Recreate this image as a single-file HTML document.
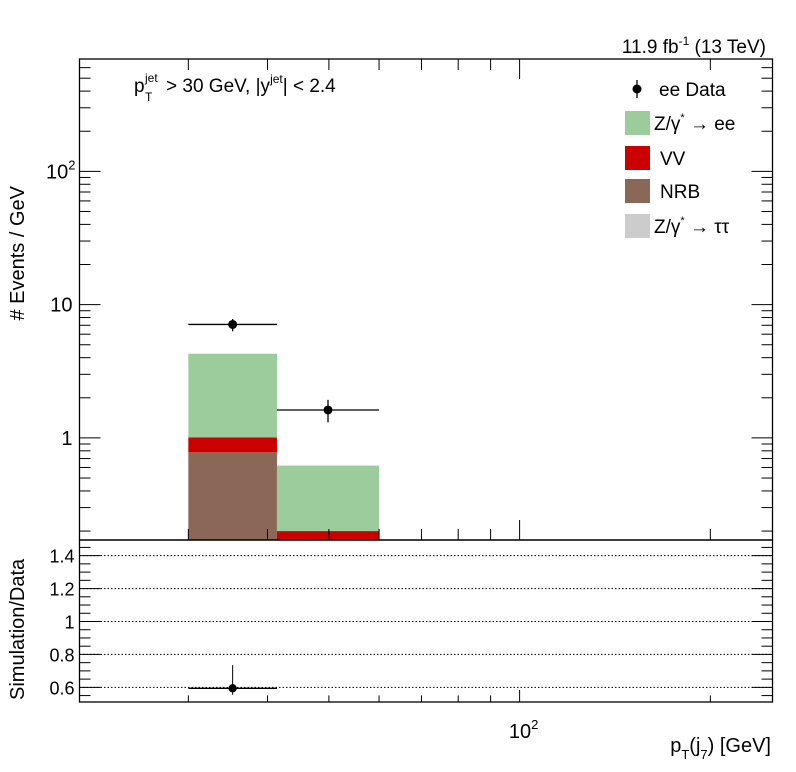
<!DOCTYPE html>
<html><head><meta charset="utf-8"><style>
body{margin:0;background:#fff}
svg{display:block;font-family:"Liberation Sans",sans-serif}
</style></head><body>
<svg id="c" width="796" height="772" viewBox="0 0 796 772"></svg>
<script>
const binEdges=[30,41.4,60];
const nrb=[0.78,0];
const vv=[0.23,0.20];
const zee=[3.27,0.42];
const ztt=[0,0];
const dataVal=[7.1,1.62];
const dataUp=[7.8,1.93];
const dataLo=[6.3,1.31];
const ratioVal=[0.594];
const ratioUp=[0.735];
const ratioLo=[0.555];
const yTicksRatio=[0.6,0.8,1,1.2,1.4];

const NS="http://www.w3.org/2000/svg";
const svg=document.getElementById('c');
const L=79.5,R=772.5,T=59,B=540,RB=702;
const xmin=Math.log10(20.2),xmax=Math.log10(250.7);
const X=v=>L+(Math.log10(v)-xmin)/(xmax-xmin)*(R-L);
const ylmin=-0.766,ylmax=2.843;
const Y=v=>B-(Math.log10(Math.max(v,1e-6))-ylmin)/(ylmax-ylmin)*(B-T);
const rmin=0.511,rmax=1.495;
const YR=v=>RB-(v-rmin)/(rmax-rmin)*(RB-B);
function el(t,a,name,parent){const e=document.createElementNS(NS,t);for(const k in a)e.setAttribute(k,a[k]);


(parent||svg).appendChild(e);return e;}
function txt(x,y,s,name,extra){const e=el('text',Object.assign({x:x,y:y,'font-size':20,fill:'#000'},extra||{}),name);e.innerHTML=s;return e;}

const stacks=[[nrb,'#8a6756','nrb'],[vv,'#cc0000','vv'],[ztt,'#cccccc','ztt'],[zee,'#9ccc9c','zee']];
for(let i=0;i<binEdges.length-1;i++){
  let base=0;
  for(const [arr,col,nm] of stacks){
    const top=base+arr[i];
    if(arr[i]>0){const y1=Math.min(Y(top),B),y0=Math.min(Y(base>0?base:1e-6),B);
      el('rect',{x:X(binEdges[i]),y:y1,width:X(binEdges[i+1])-X(binEdges[i]),height:Math.max(0,y0-y1),fill:col},'bar-'+nm+'-'+i);}
    base=top;
  }
}
for(let i=0;i<dataVal.length;i++){
  const cx=Math.sqrt(binEdges[i]*binEdges[i+1]);
  el('line',{x1:X(binEdges[i]),x2:X(binEdges[i+1]),y1:Y(dataVal[i]),y2:Y(dataVal[i]),stroke:'#000','stroke-width':1.3},'data-xerr-'+i);
  el('line',{x1:X(cx),x2:X(cx),y1:Y(dataUp[i]),y2:Y(dataLo[i]),stroke:'#000','stroke-width':1.3},'data-yerr-'+i);
  el('circle',{cx:X(cx),cy:Y(dataVal[i]),r:4.5,fill:'#000'},'data-point-'+i);
}
el('rect',{x:L,y:T,width:R-L,height:B-T,fill:'none',stroke:'#000','stroke-width':1.3},'main-frame');
el('rect',{x:L,y:B,width:R-L,height:RB-B,fill:'none',stroke:'#000','stroke-width':1.3},'ratio-frame');
for(let d=-1;d<=2;d++)for(let m=1;m<10;m++){const v=m*Math.pow(10,d);const y=Y(v);if(y<T||y>B)continue;
  const len=m==1?21:11;
  el('line',{x1:L,x2:L+len,y1:y,y2:y,stroke:'#000'},'y-tick');
  el('line',{x1:R,x2:R-len,y1:y,y2:y,stroke:'#000'},'y-tick-right');}
txt(L-7,Y(1)+7,'1','y-label-1',{'text-anchor':'end'});
txt(L-7,Y(10)+7,'10','y-label-10',{'text-anchor':'end'});
txt(L-4,Y(100)+7,'10<tspan dy="-9" font-size="13">2</tspan>','y-label-100',{'text-anchor':'end'});
for(let d=1;d<=2;d++)for(let m=1;m<10;m++){const v=m*Math.pow(10,d);const x=X(v);if(x<L||x>R)continue;
  const len=m==1?20:11;
  el('line',{x1:x,x2:x,y1:B,y2:B-len,stroke:'#000'},'x-tick');
  el('line',{x1:x,x2:x,y1:T,y2:T+len,stroke:'#000'},'x-tick-top');
  el('line',{x1:x,x2:x,y1:RB,y2:RB-len*0.6,stroke:'#000'},'x-tick-ratio');}
txt(X(100)+4,738,'10<tspan dy="-9" font-size="13">2</tspan>','x-label-100',{'text-anchor':'middle'});
for(let v=0.55;v<1.5;v+=0.05){const y=YR(v);const major=Math.abs(v*5-Math.round(v*5))<1e-6;
  el('line',{x1:L,x2:L+(major?21:11),y1:y,y2:y,stroke:'#000'},'ratio-tick');
  el('line',{x1:R,x2:R-(major?21:11),y1:y,y2:y,stroke:'#000'},'ratio-tick-right');}
yTicksRatio.forEach(v=>{
  el('line',{x1:L,x2:R,y1:YR(v),y2:YR(v),stroke:'#000','stroke-dasharray':'1.5,2'},'ratio-grid');
  txt(L-5,YR(v)+7,String(v),'ratio-label',{'text-anchor':'end','font-size':18});
});
for(let i=0;i<ratioVal.length;i++){const cx=Math.sqrt(binEdges[i]*binEdges[i+1]);
  el('line',{x1:X(binEdges[i]),x2:X(binEdges[i+1]),y1:YR(ratioVal[i]),y2:YR(ratioVal[i]),stroke:'#000','stroke-width':1.3},'ratio-xerr');
  el('line',{x1:X(cx),x2:X(cx),y1:YR(ratioUp[i]),y2:YR(ratioLo[i]),stroke:'#000'},'ratio-yerr');
  el('circle',{cx:X(cx),cy:YR(ratioVal[i]),r:4.2,fill:'#000'},'ratio-point');}
txt(766,53,'11.9 fb<tspan dy="-8" font-size="12">-1</tspan><tspan dy="8"> (13 TeV)</tspan>','lumi-label',{'text-anchor':'end','font-size':19});
txt(134,92,'p','cut-label-p',{'font-size':19});
txt(145,82,'jet','cut-label-sup',{'font-size':12});
txt(145,101,'T','cut-label-sub',{'font-size':12});
txt(166,92,'&gt; 30 GeV,  |y<tspan dy="-9" font-size="12">jet</tspan><tspan dy="9">| &lt; 2.4</tspan>','cut-label',{'font-size':19,'xml:space':'preserve'});
txt(24,186,'# Events / GeV','y-axis-title',{transform:'rotate(-90 24 186)','text-anchor':'end'});
txt(24,700,'Simulation/Data','ratio-y-title',{transform:'rotate(-90 24 700)'});
txt(771,752,'p<tspan dy="7" font-size="13">T</tspan><tspan dy="-7">(j</tspan><tspan dy="7" font-size="13">7</tspan><tspan dy="-7">) [GeV]</tspan>','x-axis-title',{'text-anchor':'end'});
const legY=[89,123,158,191,226];
el('line',{x1:637,x2:637,y1:80,y2:98,stroke:'#000','stroke-width':1.3},'legend-data-bar');
el('circle',{cx:637,cy:89,r:4.5,fill:'#000'},'legend-data-marker');
txt(659,96,'ee Data','legend-data',{'font-size':19});
const legItems=[['#9ccc9c','Z/γ<tspan dy="-9" font-size="11">*</tspan><tspan dy="9"> → ee</tspan>','legend-zee'],['#cc0000','VV','legend-vv'],['#8a6756','NRB','legend-nrb'],['#cccccc','Z/γ<tspan dy="-9" font-size="11">*</tspan><tspan dy="9"> → ττ</tspan>','legend-ztt']];
legItems.forEach((it,k)=>{const y=legY[k+1];
  el('rect',{x:625,y:y-12,width:25,height:24,fill:it[0]},it[2]+'-swatch');
  txt(k==1||k==2?660:654,y+7,it[1],it[2],{'font-size':19});});
</script>
</body></html>
